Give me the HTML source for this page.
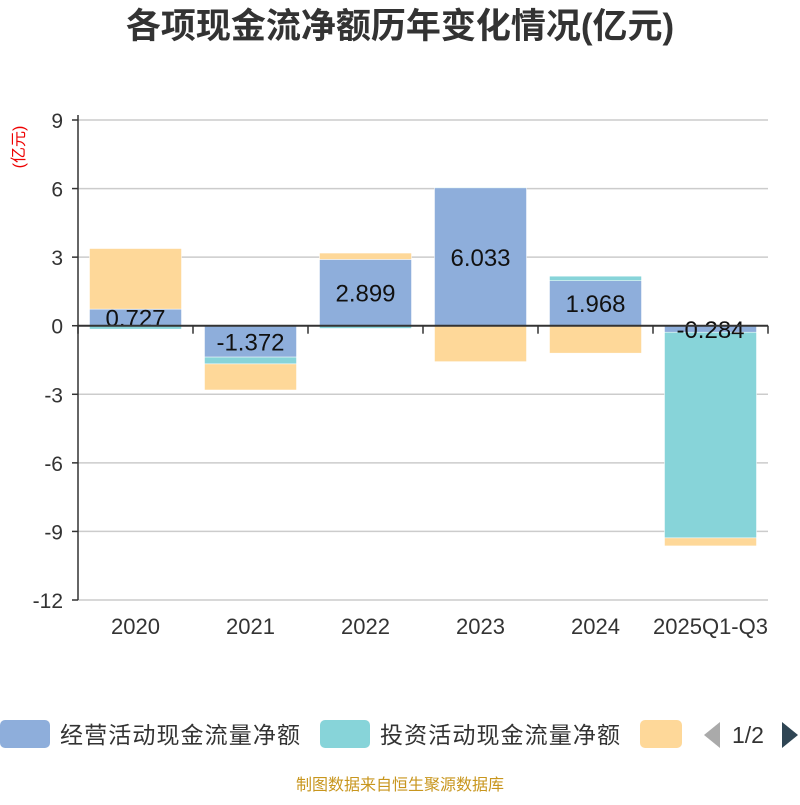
<!DOCTYPE html>
<html><head><meta charset="utf-8"><style>
body{margin:0;background:#fff;font-family:"Liberation Sans","Noto Sans CJK SC",sans-serif}
</style></head><body>
<svg id="c" width="800" height="800" xmlns="http://www.w3.org/2000/svg">
<text x="400" y="38" text-anchor="middle" font-size="35" font-weight="bold" fill="#333" font-family="Liberation Sans,Noto Sans CJK SC,sans-serif">各项现金流净额历年变化情况(亿元)</text>
<text x="24" y="147" text-anchor="middle" font-size="16" fill="#e00" transform="rotate(-90 24 147)" font-family="Liberation Sans,Noto Sans CJK SC,sans-serif">(亿元)</text>
<g id="grid"></g><g id="bars"></g><g id="axes"></g>
<g font-size="23" fill="#333" font-family="Liberation Sans,Noto Sans CJK SC,sans-serif">
<rect x="0" y="720" width="50" height="28" rx="5" fill="#8eaedb"/>
<text x="60" y="743" textLength="240">经营活动现金流量净额</text>
<rect x="320" y="720" width="50" height="28" rx="5" fill="#87d4d9"/>
<text x="380" y="743" textLength="240">投资活动现金流量净额</text>
<rect x="640" y="720" width="42" height="28" rx="5" fill="#fed899"/>
<polygon points="720,722 720,748 704,735" fill="#aaa"/>
<text x="732" y="743">1/2</text>
<polygon points="782,722 782,748 798,735" fill="#2f4554"/>
</g>
<text x="400" y="790" text-anchor="middle" font-size="16" fill="#c8961e" font-family="Liberation Sans,Noto Sans CJK SC,sans-serif">制图数据来自恒生聚源数据库</text>
</svg>
<script>
const categories=["2020","2021","2022","2023","2024","2025Q1-Q3"];
const operating=[0.727,-1.372,2.899,6.033,1.968,-0.284];
const investing=[-0.15,-0.3,-0.12,0.03,0.2,-9.0];
const financing=[2.65,-1.14,0.28,-1.57,-1.2,-0.35];
const yTicks=[9,6,3,0,-3,-6,-9,-12];
const colors=["#8eaedb","#87d4d9","#fed899"];
const NS="http://www.w3.org/2000/svg";
const L=78,R=768,T=120,B=600,ymax=9,ymin=-12;
const y=v=>T+(ymax-v)/(ymax-ymin)*(B-T);
const bw=(R-L)/categories.length;
const x=i=>L+bw*i+bw/2;
function mk(tag,attrs,parent){const e=document.createElementNS(NS,tag);for(const k in attrs)e.setAttribute(k,attrs[k]);document.getElementById(parent).appendChild(e);return e;}
yTicks.forEach(t=>{
 const g=mk("line",{x1:L,x2:R,y1:y(t),y2:y(t),stroke:"#ccc","stroke-width":1.5},"grid");
 
 
 const tx=mk("text",{x:L-15,y:y(t)+8,"text-anchor":"end","font-size":21,fill:"#333"},"axes");
 tx.textContent=t;
 
 
 const tk=mk("line",{x1:L-6,x2:L,y1:y(t),y2:y(t),stroke:"#333","stroke-width":1.5},"axes");
 
 
});
const series=[operating,investing,financing];
categories.forEach((c,i)=>{
 let pos=0,neg=0;
 series.forEach((s,k)=>{
  const v=s[i];let a,b;
  if(v>=0){a=pos;b=pos+v;pos=b;}else{a=neg;b=neg+v;neg=b;}
  const r=mk("rect",{x:x(i)-46,width:92,y:Math.min(y(a),y(b)),height:Math.abs(y(a)-y(b)),fill:colors[k],stroke:"#fff","stroke-width":0.5},"bars");
  
  
 });
 const v=operating[i];
 const lb=mk("text",{x:x(i),y:(y(0)+y(v))/2+9,"text-anchor":"middle","font-size":24,fill:"#111"},"bars");
 lb.textContent=v.toFixed(3);
 
 
 const xl=mk("text",{x:x(i),y:634,"text-anchor":"middle","font-size":22,fill:"#333"},"axes");
 xl.textContent=c;
 
 
});
for(let i=0;i<=categories.length;i++){
 const t=mk("line",{x1:L+bw*i,x2:L+bw*i,y1:y(0),y2:y(0)+8,stroke:"#333","stroke-width":1.5},"axes");
 
 
}
const ya=mk("line",{x1:L,x2:L,y1:T-5,y2:B,stroke:"#333","stroke-width":1.5},"axes");


const xa=mk("line",{x1:L,x2:R,y1:y(0),y2:y(0),stroke:"#333","stroke-width":2},"axes");


</script>
</body></html>
